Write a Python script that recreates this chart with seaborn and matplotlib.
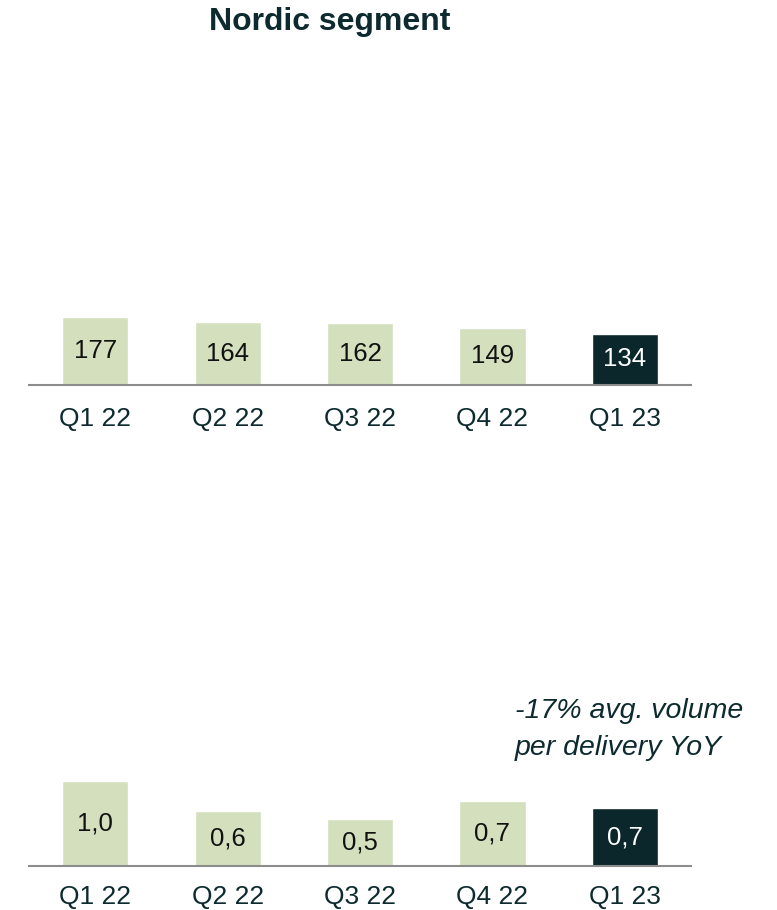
import pandas as pd
import matplotlib.pyplot as plt
import seaborn as sns

# ---------------------------
# Data
# ---------------------------
quarters = ["Q1 22", "Q2 22", "Q3 22", "Q4 22", "Q1 23"]
top_values = [177, 164, 162, 149, 134]
top_labels = ["177", "164", "162", "149", "134"]
bottom_values = [0.97, 0.63, 0.54, 0.74, 0.66]
bottom_labels = ["1,0", "0,6", "0,5", "0,7", "0,7"]

light = "#d3dfbd"
dark = "#0b272b"
bar_colors = [light, light, light, light, dark]
text_dark = "#0d2b2e"

sns.set_theme(style="white")
plt.rcParams["font.family"] = ["Liberation Sans", "DejaVu Sans"]

fig = plt.figure(figsize=(7.77, 9.10), dpi=100)
W, H = 777, 910


def px_axes(left, top, right, bottom):
    return fig.add_axes([left / W, 1 - bottom / H, (right - left) / W, (bottom - top) / H])


def draw_panel(ax, values, labels, ymax, pad):
    df = pd.DataFrame({"quarter": quarters, "value": values})
    sns.barplot(data=df, x="quarter", y="value", hue="quarter",
                palette=bar_colors, legend=False, width=0.5,
                saturation=1, ax=ax)
    ax.set_xlim(-0.5, 4.5)
    ax.set_ylim(0, ymax)
    for i, (v, lab) in enumerate(zip(values, labels)):
        col = "white" if bar_colors[i] == dark else "#111111"
        ax.text(i, v / 2, lab, ha="center", va="center", fontsize=18.5, color=col)
    sns.despine(ax=ax, left=True, top=True, right=True)
    ax.spines["bottom"].set_color("#8c8c8c")
    ax.spines["bottom"].set_linewidth(1.5)
    ax.set_yticks([])
    ax.set_xlabel("")
    ax.set_ylabel("")
    ax.tick_params(axis="x", length=0, pad=pad, labelsize=19, labelcolor=text_dark)


# top panel: baseline at y=385 px, 0.383 px per unit
ax1 = px_axes(29, 100, 691, 385)
draw_panel(ax1, top_values, top_labels, 285 / 0.383, 16)

# bottom panel: baseline at y=866 px, 87.6 px per unit
ax2 = px_axes(29, 560, 691, 866)
draw_panel(ax2, bottom_values, bottom_labels, 306 / 87.6, 14)

fig.text(330 / W, 1 - 22 / H, "Nordic segment", ha="center", va="center",
         fontsize=23, fontweight="bold", color=text_dark)

fig.text(515 / W, 1 - 711 / H, "-17% avg. volume", ha="left", va="center",
         fontsize=20.5, style="italic", color=text_dark)
fig.text(515 / W, 1 - 748 / H, "per delivery YoY", ha="left", va="center",
         fontsize=20.5, style="italic", color=text_dark)

fig.savefig("out.png", dpi=100)
